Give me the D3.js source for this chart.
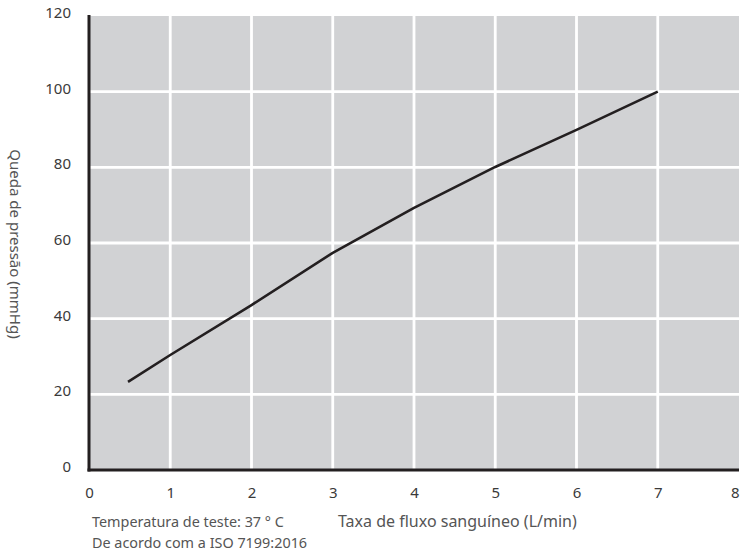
<!DOCTYPE html>
<html>
<head>
<meta charset="utf-8">
<script src="https://cdn.jsdelivr.net/npm/d3@7"></script>
<style>
  body { margin: 0; background: #fff; }
  svg text { font-family: "Noto Sans", "Open Sans", sans-serif; }
</style>
</head>
<body>
<svg id="chart"></svg>
<script>
// flow rate (L/min) vs pressure drop (mmHg)
var flow = [0.48, 1, 2, 3, 4, 5, 6, 7];
var pressure = [23.3, 30.4, 43.6, 57.4, 69.3, 80.1, 89.9, 100];
var xTicks = [0, 1, 2, 3, 4, 5, 6, 7, 8];
var yTicks = [0, 20, 40, 60, 80, 100, 120];

var width = 741;
var height = 552;
var margin = {top: 16, right: 2, bottom: 82, left: 89};

var svg = d3.select("#chart")
    .attr("width", width)
    .attr("height", height);

var x = d3.scaleLinear()
    .domain([0, 8])
    .range([margin.left, width - margin.right]);

var y = d3.scaleLinear()
    .domain([0, 120])
    .range([height - margin.bottom, margin.top]);

// grey plot background
svg.append("rect")
    .attr("x", x(0))
    .attr("y", y(120))
    .attr("width", x(8) - x(0))
    .attr("height", y(0) - y(120))
    .attr("fill", "#d1d2d4");

// white grid
svg.append("g")
    .selectAll("line")
    .data(xTicks.slice(1, -1))
    .join("line")
      .attr("x1", d => x(d)).attr("x2", d => x(d))
      .attr("y1", y(120)).attr("y2", y(0))
      .attr("stroke", "#fff")
      .attr("stroke-width", 2.8);

svg.append("g")
    .selectAll("line")
    .data(yTicks.slice(1, -1))
    .join("line")
      .attr("x1", x(0)).attr("x2", x(8))
      .attr("y1", d => y(d)).attr("y2", d => y(d))
      .attr("stroke", "#fff")
      .attr("stroke-width", 2.8);

// axes (labels only, domain lines drawn by hand below)
var xAxis = svg.append("g")
    .attr("transform", "translate(0," + y(0) + ")")
    .call(d3.axisBottom(x).tickValues(xTicks).tickSize(0).tickPadding(17).tickFormat(d3.format("d")));

var yAxis = svg.append("g")
    .attr("transform", "translate(" + x(0) + ",0)")
    .call(d3.axisLeft(y).tickValues(yTicks).tickSize(0).tickPadding(18).tickFormat(d3.format("d")));

[xAxis, yAxis].forEach(function(g) {
  g.select(".domain").remove();
  g.selectAll("text")
    .attr("font-size", 15)
    .attr("fill", "#3a3a3a");
});
yAxis.selectAll("text").attr("dy", "0.1em");
// last x label sits flush with the right edge
xAxis.selectAll(".tick text").filter(d => d === 8).attr("text-anchor", "end");

svg.append("line")
    .attr("x1", x(0)).attr("x2", x(0))
    .attr("y1", y(120) - 1).attr("y2", y(0) + 1.5)
    .attr("stroke", "#231f20")
    .attr("stroke-width", 3);

svg.append("line")
    .attr("x1", x(0) - 1.5).attr("x2", x(8))
    .attr("y1", y(0)).attr("y2", y(0))
    .attr("stroke", "#231f20")
    .attr("stroke-width", 3);

// the curve
var line = d3.line()
    .x(d => x(d[0]))
    .y(d => y(d[1]));

svg.append("path")
    .datum(d3.zip(flow, pressure))
    .attr("d", line)
    .attr("fill", "none")
    .attr("stroke", "#231f20")
    .attr("stroke-width", 2.6)
    .attr("stroke-linejoin", "round");

// titles and notes
svg.append("text")
    .attr("transform", "translate(10,244) rotate(90)")
    .attr("text-anchor", "middle")
    .attr("font-size", 15)
    .attr("fill", "#555")
    .text("Queda de pressão (mmHg)");

svg.append("text")
    .attr("x", 338)
    .attr("y", 527)
    .attr("font-size", 16)
    .attr("fill", "#555")
    .text("Taxa de fluxo sanguíneo (L/min)");

svg.append("text")
    .attr("x", 92)
    .attr("y", 527)
    .attr("font-size", 14.4)
    .attr("fill", "#555")
    .text("Temperatura de teste: 37 ° C");

svg.append("text")
    .attr("x", 92)
    .attr("y", 548)
    .attr("font-size", 14.4)
    .attr("fill", "#555")
    .text("De acordo com a ISO 7199:2016");
</script>
</body>
</html>
